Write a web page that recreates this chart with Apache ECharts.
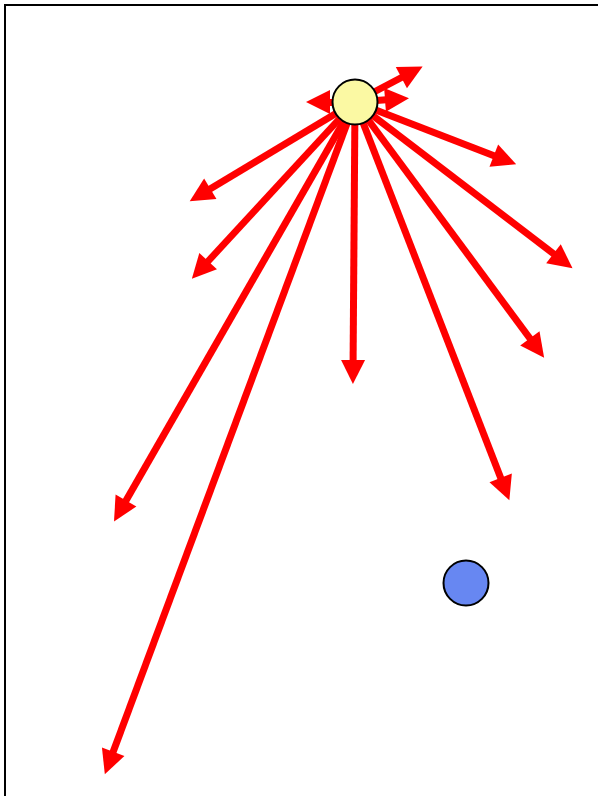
<!DOCTYPE html>
<html>
<head>
<meta charset="utf-8">
<script src="https://cdn.jsdelivr.net/npm/echarts@6/dist/echarts.min.js"></script>
<style>html,body{margin:0;padding:0;background:#fff}#c{width:598px;height:796px}</style>
</head>
<body>
<div id="c"></div>
<script>
// Bodies (data units)
const sun = [350, 703];
const planet = [461, 222];
// Vector end points, all starting at the sun
const vectorEnds = [
  [407, 733], [313, 703], [392, 706], [500, 645], [558, 544], [532, 457],
  [500, 316], [348, 433], [195, 610], [195, 535], [115, 294], [104, 42]
];

const chart = echarts.init(document.getElementById('c'), null, {renderer: 'canvas'});
chart.setOption({
  animation: false,
  backgroundColor: '#ffffff',
  grid: {left: 5, top: 5, width: 600, height: 800, outerBoundsMode: 'none', containLabel: false,
         show: true, borderColor: '#000', borderWidth: 2, backgroundColor: 'transparent'},
  xAxis: {type: 'value', min: 0, max: 600, show: false},
  yAxis: {type: 'value', min: 0, max: 800, show: false},
  series: [
    {
      type: 'lines',
      coordinateSystem: 'cartesian2d',
      z: 1,
      symbol: ['none', 'triangle'],
      symbolSize: 24,
      lineStyle: {color: '#ff0000', width: 7, opacity: 1, curveness: 0},
      data: vectorEnds.map(e => ({coords: [sun, e]}))
    },
    {
      type: 'scatter',
      z: 3,
      symbol: 'circle',
      symbolSize: 45,
      itemStyle: {color: '#FBF9A3', borderColor: '#000', borderWidth: 2, opacity: 1},
      data: [sun]
    },
    {
      type: 'scatter',
      z: 3,
      symbol: 'circle',
      symbolSize: 45,
      itemStyle: {color: '#6787F2', borderColor: '#000', borderWidth: 2, opacity: 1},
      data: [planet]
    }
  ]
});
</script>
</body>
</html>
